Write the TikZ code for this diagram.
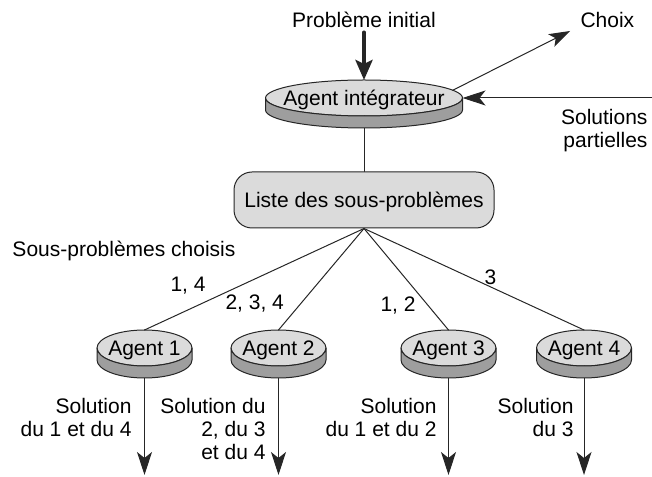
\documentclass[tikz,border=0pt]{standalone}
\usepackage{fontspec}
\setmainfont{Liberation Sans}
\usetikzlibrary{arrows.meta,shapes.geometric}

\definecolor{grisclair}{gray}{0.86}
\definecolor{grisfonce}{gray}{0.62}
\definecolor{trait}{gray}{0.15}

% socle sous un disque : #1 nom du noeud, #2 demi-largeur
\newcommand{\socle}[2]{%
  \draw[trait, fill=grisfonce] (#1.west) -- ++(0,-12)
    arc[start angle=180, end angle=360, x radius=#2pt, y radius=18pt]
    -- (#1.east)
    arc[start angle=0, end angle=-180, x radius=#2pt, y radius=18pt] -- cycle;}

\begin{document}
\begin{tikzpicture}[
  x=1pt, y=1pt,
  line width=1pt,
  line cap=round,
  line join=round,
  every node/.style={font=\fontsize{21}{23}\selectfont, inner sep=0pt},
  disque/.style={ellipse, draw=trait, fill=grisclair, minimum height=36pt,
    outer sep=0pt, text depth=0pt},
  fleche/.style={-{Stealth[length=23pt, width=15pt, inset=6pt]}}
]
  \useasboundingbox (0,0) rectangle (652,476);

  % Agent intégrateur et liste
  \node[disque, minimum width=197pt] (aint) at (364,378) {\makebox[0pt]{Agent intégrateur}};
  \node[draw=trait, fill=grisclair, rounded corners=18pt, minimum width=260pt,
    minimum height=56pt, text depth=0pt] (liste) at (364,276) {Liste des sous-problèmes};

  % Agents
  \node[disque, minimum width=95pt] (a1) at (144.5,128) {\makebox[0pt]{Agent 1}};
  \node[disque, minimum width=95pt] (a2) at (278.5,128) {\makebox[0pt]{Agent 2}};
  \node[disque, minimum width=95pt] (a3) at (448.5,128) {\makebox[0pt]{Agent 3}};
  \node[disque, minimum width=95pt] (a4) at (584,128) {\makebox[0pt]{Agent 4}};

  % Textes du haut
  \node[anchor=base] (pinit) at (364,448) {Problème initial};
  \node[anchor=base west] (choix) at (580,448) {Choix};
  \node[anchor=base east, align=right] (spart) at (648,328) {Solutions\\partielles};
  \node[anchor=base west] (choisis) at (12,219) {Sous-problèmes choisis};

  % Extrémités libres
  \coordinate (ch) at (570,445);
  \coordinate (sp) at (652,378);
  \coordinate (f1) at (144.5,1);
  \coordinate (f2) at (278.5,1);
  \coordinate (f3) at (448.5,1);
  \coordinate (f4) at (584,1);

  % Flèches autour de l'agent intégrateur
  \draw[trait, line width=4.5pt, shorten <=4pt,
    -{Stealth[length=20pt, width=17pt, inset=4pt]}] (pinit.south) -- (aint.north);
  \draw[trait, -{Stealth[length=21pt, width=14pt, inset=5pt]}] (aint.5) -- (ch);
  \draw[trait, fleche] (sp) -- (aint.east);
  \draw[trait] (aint.south) -- (liste.north);
  \socle{aint}{98.5}

  % Répartition des sous-problèmes
  \draw[trait] (liste.south) -- (a1.north);
  \draw[trait] (liste.south) -- (a2.north);
  \draw[trait] (liste.south) -- (a3.north);
  \draw[trait] (liste.south) -- (a4.north);
  \node[anchor=base west] (e14) at (170,184) {1, 4};
  \node[anchor=base west] (e234) at (225,166) {2, 3, 4};
  \node[anchor=base west] (e12) at (380,164) {1, 2};
  \node[anchor=base west] (e3) at (484,191) {3};

  % Solutions des agents
  \draw[trait, fleche] (a1.south) -- (f1);
  \draw[trait, fleche] (a2.south) -- (f2);
  \draw[trait, fleche] (a3.south) -- (f3);
  \draw[trait, fleche] (a4.south) -- (f4);
  \socle{a1}{47.5}
  \socle{a2}{47.5}
  \socle{a3}{47.5}
  \socle{a4}{47.5}

  \node[anchor=base east, align=right] (sol1) at (132,40) {Solution\\du 1 et du 4};
  \node[anchor=base east, align=right] (sol2) at (266,17) {Solution du\\2, du 3\\et du 4};
  \node[anchor=base east, align=right] (sol3) at (437,40) {Solution\\du 1 et du 2};
  \node[anchor=base east, align=right] (sol4) at (574,40) {Solution\\du 3};
\end{tikzpicture}
\end{document}
